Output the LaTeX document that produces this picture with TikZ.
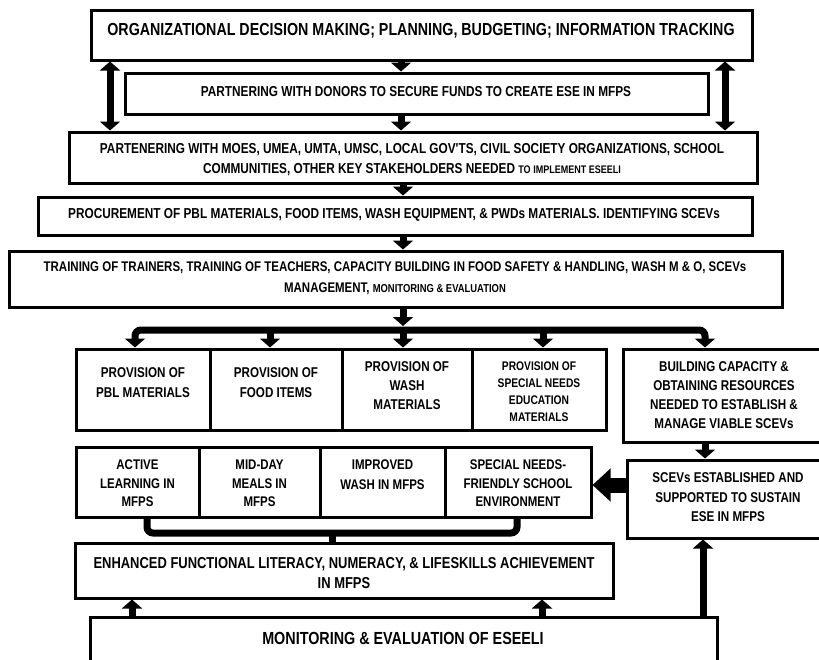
\documentclass[tikz,border=0pt]{standalone}
\usepackage{fontspec}
\newfontfamily\af{Liberation Sans}[FakeStretch=0.82]
\usetikzlibrary{arrows.meta}
\newcommand\fsz[2]{\fontsize{#1}{#2}\selectfont}
\tikzset{
  box/.style={draw, line width=3pt, inner sep=0pt},
  lbl/.style 2 args={align=center, inner sep=0pt, font=\af\bfseries\fsz{#1}{#2}},
  fat/.style={line width=7pt},
  blk/.tip={Triangle[width=20pt,length=9pt]},
  arr/.style={fat, -blk},
  darr/.style={fat, blk-blk},
}
\begin{document}
\begin{tikzpicture}[x=1pt,y=-1pt]
\useasboundingbox (0,0) rectangle (819,659);
\clip (0,0) rectangle (819,659);
% boxes
\node[box, minimum width=661pt, minimum height=50pt] (top) at (421.5,35) {};
\node[box, minimum width=583pt, minimum height=41pt] (don) at (416.5,93.5) {};
\node[box, minimum width=688pt, minimum height=51pt] (stk) at (413,157.5) {};
\node[box, minimum width=714pt, minimum height=38pt] (proc) at (395,216) {};
\node[box, minimum width=773pt, minimum height=56pt] (trn) at (395.5,279) {};
\node[box, minimum width=134pt, minimum height=81pt] (pbl) at (143,389.5) {};
\node[box, minimum width=132pt, minimum height=81pt] (food) at (276,389.5) {};
\node[box, minimum width=130pt, minimum height=81pt] (wash) at (407,389.5) {};
\node[box, minimum width=134pt, minimum height=81pt] (sne) at (539,389.5) {};
\node[box, minimum width=217pt, minimum height=93pt] (bld) at (731.5,395.5) {};
\node[box, minimum width=213pt, minimum height=78pt] (sce) at (733.5,499) {};
\node[box, minimum width=123pt, minimum height=70pt] (act) at (137.5,482) {};
\node[box, minimum width=121pt, minimum height=70pt] (mid) at (259.5,482) {};
\node[box, minimum width=125pt, minimum height=70pt] (imp) at (382.5,482) {};
\node[box, minimum width=146pt, minimum height=70pt] (sfe) at (518,482) {};
\node[box, minimum width=538pt, minimum height=55pt] (enh) at (344,570.5) {};
\node[box, minimum width=627pt, minimum height=63pt] (mon) at (403.5,648.5) {};
% texts
\node[lbl={17.4}{20}] (ttop) at (421,31) {ORGANIZATIONAL DECISION MAKING; PLANNING, BUDGETING; INFORMATION TRACKING};
\node[lbl={14.4}{20}] (tdon) at (416,92) {PARTNERING WITH DONORS TO SECURE FUNDS TO CREATE ESE IN MFPS};
\node[lbl={14.4}{20}] (tstk) at (412,160) {PARTENERING WITH MOES, UMEA, UMTA, UMSC, LOCAL GOV'TS, CIVIL SOCIETY ORGANIZATIONS, SCHOOL\\COMMUNITIES, OTHER KEY STAKEHOLDERS NEEDED {\fsz{11}{13}TO IMPLEMENT ESEELI}};
\node[lbl={14.4}{20}] (tproc) at (394,215) {PROCUREMENT OF PBL MATERIALS, FOOD ITEMS, WASH EQUIPMENT, \& PWDs MATERIALS. IDENTIFYING SCEVs};
\node[lbl={14}{21}] (ttrn) at (395,278.5) {TRAINING OF TRAINERS, TRAINING OF TEACHERS, CAPACITY BUILDING IN FOOD SAFETY \& HANDLING, WASH M \& O, SCEVs\\MANAGEMENT, {\fsz{11.5}{13}MONITORING \& EVALUATION}};
\node[lbl={14.2}{20}] (tpbl) at (143,383) {PROVISION OF\\PBL MATERIALS};
\node[lbl={14.2}{20}] (tfood) at (276,383) {PROVISION OF\\FOOD ITEMS};
\node[lbl={14.2}{19}] (twash) at (407,386) {PROVISION OF\\WASH\\MATERIALS};
\node[lbl={12.5}{17}] (tsne) at (539,392) {PROVISION OF\\SPECIAL NEEDS\\EDUCATION\\MATERIALS};
\node[lbl={14.2}{19}] (tbld) at (724,395.5) {BUILDING CAPACITY \&\\OBTAINING RESOURCES\\NEEDED TO ESTABLISH \&\\MANAGE VIABLE SCEVs};
\node[lbl={14.2}{19.5}] (tsce) at (728,497.5) {SCEVs ESTABLISHED AND\\SUPPORTED TO SUSTAIN\\ESE IN MFPS};
\node[lbl={14}{18.5}] (tact) at (137.5,483.5) {ACTIVE\\LEARNING IN\\MFPS};
\node[lbl={14}{18.5}] (tmid) at (259.5,483.5) {MID-DAY\\MEALS IN\\MFPS};
\node[lbl={14}{20}] (timp) at (382.5,475) {IMPROVED\\WASH IN MFPS};
\node[lbl={14}{18.5}] (tsfe) at (518,483.5) {SPECIAL NEEDS-\\FRIENDLY SCHOOL\\ENVIRONMENT};
\node[lbl={15.8}{20}] (tenh) at (344,573) {ENHANCED FUNCTIONAL LITERACY, NUMERACY, \& LIFESKILLS ACHIEVEMENT\\IN MFPS};
\node[lbl={17.5}{20}] (tmon) at (403,638) {MONITORING \& EVALUATION OF ESEELI};
% connectors (top part)
\draw[arr] (401,0 |- top.south) -- (401,0 |- don.north);
\draw[arr] (401,0 |- don.south) -- (401,0 |- stk.north);
\draw[darr] (110,0 |- top.south) -- (110,0 |- stk.north);
\draw[darr] (725,0 |- top.south) -- (725,0 |- stk.north);
\draw[arr] (403,0 |- stk.south) -- (403,0 |- proc.north);
\draw[arr] (403,0 |- proc.south) -- (403,0 |- trn.north);
% distribution bar
\coordinate (bar) at (403,330);
\coordinate (b2) at (270,330);
\coordinate (b4) at (543,330);
\draw[arr] (403,0 |- trn.south) -- (403,326);
\draw[fat, rounded corners=6pt, blk-blk] (135,0 |- pbl.north) |- (bar) -| (705,0 |- bld.north);
\draw[arr] (b2) -- (270,0 |- food.north);
\draw[arr] (bar) -- (403,0 |- wash.north);
\draw[arr] (b4) -- (543,0 |- sne.north);
\draw[arr] (705,0 |- bld.south) -- (705,0 |- sce.north);
% big arrow SCEVs -> outcomes
\draw[line width=15pt, -{Triangle[width=32pt,length=18pt]}] (sce.west |- 0,485) -- (sfe.east |- 0,485);
% bracket
\coordinate (brk) at (332,533);
\draw[fat, rounded corners=6pt] (147,0 |- act.south) |- (brk) -| (517,0 |- sfe.south);
\draw[fat] (brk) -- (332,0 |- enh.north);
% up arrows from M&E
\draw[arr] (132,0 |- mon.north) -- (132,0 |- enh.south);
\draw[arr] (542,0 |- mon.north) -- (542,0 |- enh.south);
\draw[arr] (703,0 |- mon.north) -- (703,0 |- sce.south);
\end{tikzpicture}
\end{document}
